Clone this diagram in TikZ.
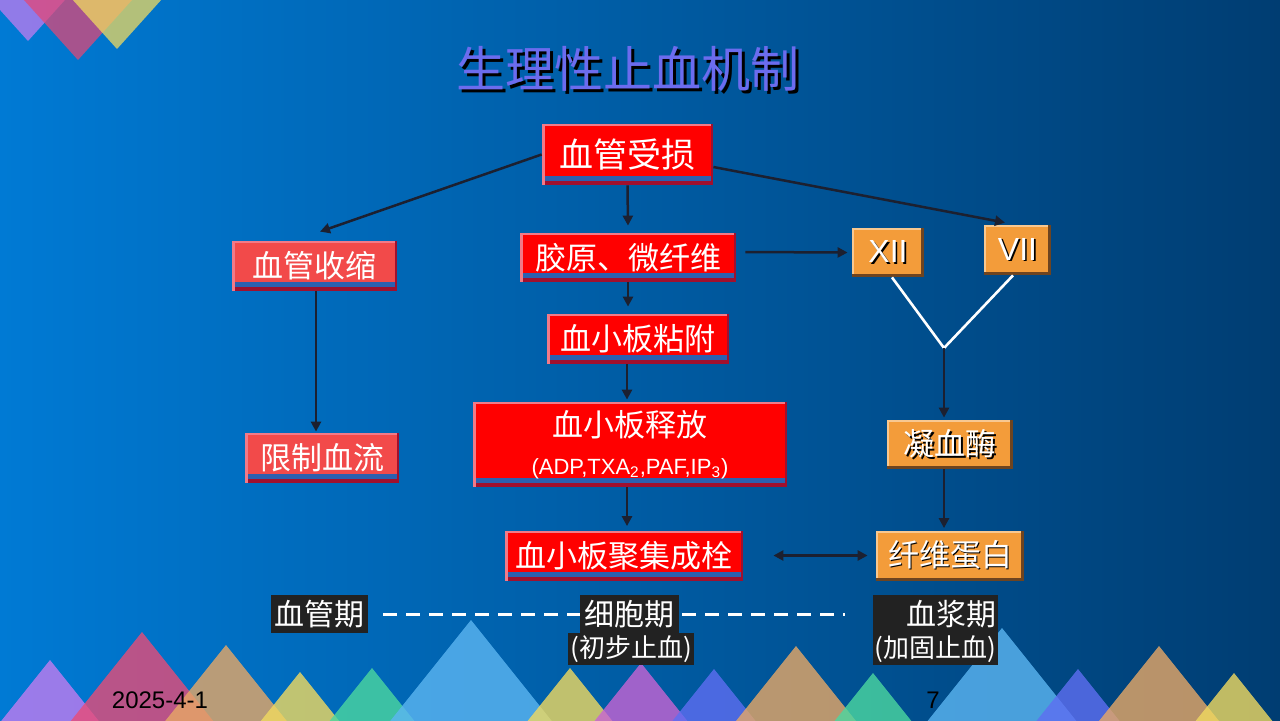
\documentclass[tikz,border=0pt]{standalone}
\usepackage{fontspec}
\setmainfont{Liberation Sans}
\newfontfamily\cjk{Noto Sans CJK SC}
\usetikzlibrary{arrows.meta}
\definecolor{bgL}{HTML}{007AD4}
\definecolor{bgR}{HTML}{003D72}
\definecolor{boxred}{HTML}{FF0000}
\definecolor{boxlred}{HTML}{F24A4A}
\definecolor{boxlt}{HTML}{F27A88}
\definecolor{boxdk}{HTML}{A0102E}
\definecolor{stripe}{HTML}{2C60B0}
\definecolor{boxor}{HTML}{F39C3A}
\definecolor{orlt}{HTML}{F8C890}
\definecolor{ordk}{HTML}{6E4420}
\definecolor{lineC}{HTML}{1C2030}
\definecolor{labbg}{HTML}{222222}
\definecolor{titlec}{HTML}{6C6CEE}
\definecolor{tpurple}{HTML}{C27CF0}
\definecolor{tpink}{HTML}{E04878}
\definecolor{tyellow}{HTML}{F0DA60}
\definecolor{tred}{HTML}{E84C78}
\definecolor{torange}{HTML}{E8A866}
\definecolor{tteal}{HTML}{4CD8A0}
\definecolor{tlblue}{HTML}{5CB6F2}
\definecolor{tblue}{HTML}{5E6EF2}
\definecolor{tmag}{HTML}{C864D4}
\newcommand\shtext[2][0.8pt]{\makebox[0pt][l]{\kern#1\raisebox{-#1}{\color{black}#2}}#2}
\newcommand\btri[3]{\fill[#3,fill opacity=0.8] ({#1-0.8*(725-#2)},725) -- (#1,#2) -- ({#1+0.8*(725-#2)},725) -- cycle;}
\newcommand\ttri[3]{\fill[#3,fill opacity=0.75] ({#1-0.9*(#2+5)},-5) -- (#1,#2) -- ({#1+0.9*(#2+5)},-5) -- cycle;}
\tikzset{
  rbox/.style={fill=#1, text=white, inner sep=0pt, font=\cjk\fontsize{15.5}{18}\selectfont,
    path picture={
      \fill[boxdk] ([yshift=2pt]path picture bounding box.south west) rectangle (path picture bounding box.south east);
      \fill[stripe] ([yshift=2pt]path picture bounding box.south west) rectangle ([yshift=4.5pt]path picture bounding box.south east);
      \fill[boxlt] (path picture bounding box.north west) rectangle ([xshift=1.5pt]path picture bounding box.south west);
      \fill[boxlt] (path picture bounding box.north west) rectangle ([yshift=-1pt]path picture bounding box.north east);
      \fill[boxdk] ([xshift=-1pt]path picture bounding box.north east) rectangle (path picture bounding box.south east);
    }},
  rbox/.default=boxred,
  obox/.style={fill=boxor, text=white, inner sep=0pt, font=\cjk\fontsize{15.5}{18}\selectfont,
    path picture={
      \fill[orlt] (path picture bounding box.north west) rectangle ([xshift=1pt]path picture bounding box.south west);
      \fill[orlt] (path picture bounding box.north west) rectangle ([yshift=-1pt]path picture bounding box.north east);
      \fill[ordk] ([xshift=-1.5pt]path picture bounding box.north east) rectangle (path picture bounding box.south east);
      \fill[ordk] ([yshift=1.5pt]path picture bounding box.south west) rectangle (path picture bounding box.south east);
    }},
  lab/.style={fill=labbg, text=white, inner sep=0pt, font=\cjk\fontsize{15}{18}\selectfont},
  conn/.style={draw=lineC, line width=1.25pt, -{Triangle[length=5pt,width=5pt]}},
  wline/.style={draw=white, line width=1.3pt},
}
\begin{document}
\begin{tikzpicture}[x=0.5pt,y=-0.5pt]
\useasboundingbox (0,0) rectangle (1280,720);
\shade[left color=bgL, right color=bgR] (0,0) rectangle (1280,720);
% top-left triangles
\ttri{28}{41}{tpurple}
\ttri{78}{60}{tpink}
\ttri{117}{49}{tyellow}
% bottom triangles
\btri{50}{660}{tpurple}
\btri{142}{632}{tred}
\btri{226}{645}{torange}
\btri{300}{672}{tyellow}
\btri{372}{668}{tteal}
\btri{471}{620}{tlblue}
\btri{570}{668}{tyellow}
\btri{641}{663}{tmag}
\btri{714}{669}{tblue}
\btri{796}{646}{torange}
\btri{873}{673}{tteal}
\btri{1002}{628}{tlblue}
\btri{1078}{669}{tblue}
\btri{1159}{646}{torange}
\btri{1234}{673}{tyellow}
% title
\node[font=\cjk\fontsize{24.5}{28}\selectfont, text=titlec] (title) at (628,70) {\shtext[1.6pt]{生理性止血机制}};
% red boxes
\node[rbox, minimum width=85.5pt, minimum height=30.5pt, font=\cjk\fontsize{17}{20}\selectfont] (vs) at (627.5,154.5) {血管受损};
\node[rbox=boxlred, minimum width=82.5pt, minimum height=25pt] (vc) at (314.5,266) {血管收缩};
\node[rbox=boxlred, minimum width=77pt, minimum height=25pt] (xl) at (322,458) {限制血流};
\node[rbox, minimum width=108pt, minimum height=24.5pt] (jy) at (628,257.5) {胶原、微纤维};
\node[rbox, minimum width=91pt, minimum height=25pt] (nf) at (638,339) {血小板粘附};
\node[rbox, minimum width=157pt, minimum height=42.5pt, align=center] (sf) at (630,444.5) {血小板释放\\[1pt]{\rmfamily\fontsize{11}{13}\selectfont (ADP,TXA\textsubscript{2},PAF,IP\textsubscript{3})}};
\node[rbox, minimum width=119pt, minimum height=25pt] (jj) at (624,555.5) {血小板聚集成栓};
% orange boxes
\node[obox, minimum width=36pt, minimum height=24.5pt, font=\rmfamily\fontsize{16}{18}\selectfont] (x12) at (888,252.5) {\shtext{XII}};
\node[obox, minimum width=33.5pt, minimum height=25pt, font=\rmfamily\fontsize{16}{18}\selectfont] (v7) at (1017.5,250) {\shtext{VII}};
\node[obox, minimum width=63pt, minimum height=24.5pt] (nx) at (950,444.5) {\shtext{凝血酶}};
\node[obox, minimum width=74pt, minimum height=25pt] (xw) at (950,555.5) {\shtext{纤维蛋白}};
\coordinate (vpt) at (944,348);
% connectors
\draw[conn] (vs.west) -- ([shift={(5.5,-9)}]vc.north);
\draw[conn] (vs.south) -- ([shift={(0,-7)}]jy.north);
\draw[conn] ([shift={(0,12.5)}]vs.east) -- ([shift={(-12.5,-2)}]v7.north);
\draw[conn] ([shift={(9,-5.5)}]jy.east) -- ([shift={(-4,0)}]x12.west);
\draw[conn] (jy.south) -- ([shift={(-10,-7)}]nf.north);
\draw[conn] ([shift={(-11,0)}]nf.south) -- ([shift={(-3,-2)}]sf.north);
\draw[conn] ([shift={(-3,0)}]sf.south) -- ([shift={(3,-4)}]jj.north);
\draw[conn] ([shift={(1.5,0)}]vc.south) -- ([shift={(-6,-1)}]xl.north);
\draw[wline] ([shift={(4,0)}]x12.south) -- (vpt) -- ([shift={(-4.5,0)}]v7.south);
\draw[conn] (vpt) -- ([shift={(-6,-2)}]nx.north);
\draw[conn] ([shift={(-6,0)}]nx.south) -- ([shift={(-6,-2)}]xw.north);
\draw[conn, {Triangle[length=5pt,width=5pt]}-{Triangle[length=5pt,width=5pt]}] ([shift={(30,0)}]jj.east) -- ([shift={(-8,0)}]xw.west);
% phase labels
\node[lab, minimum width=48.5pt, minimum height=19pt] (p1) at (319.5,614) {血管期};
\node[lab, minimum width=62.5pt, minimum height=19pt, text width=61pt, align=right] (p3) at (935.5,614) {血浆期};
\node[lab, minimum width=62.5pt, minimum height=16pt, font=\cjk\fontsize{13}{15}\selectfont] (p3b) at (935.5,649) {(加固止血)};
\draw[white, line width=1.5pt, dash pattern=on 7pt off 4.5pt] ([shift={(15,0)}]p1.east) -- ([shift={(-28,0)}]p3.west);
\node[lab, minimum width=49.5pt, minimum height=19pt] (p2) at (629.5,614) {细胞期};
\node[lab, minimum width=63pt, minimum height=16pt, font=\cjk\fontsize{13}{15}\selectfont] (p2b) at (631,649) {(初步止血)};
% footer
\node[font=\rmfamily\fontsize{12}{14}\selectfont, text=black] (date) at (160,700) {2025-4-1};
\node[font=\rmfamily\fontsize{12}{14}\selectfont, text=black] (pg) at (933,700) {7};
\end{tikzpicture}
\end{document}
